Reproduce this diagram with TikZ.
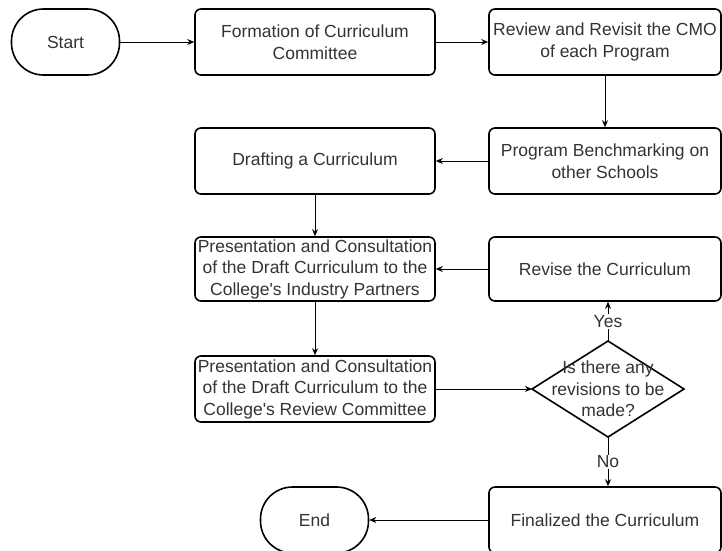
\documentclass[tikz,border=0pt]{standalone}
\usepackage{fontspec}
\setmainfont{Liberation Sans}
\usetikzlibrary{shapes.geometric,arrows.meta}
\begin{document}
\begin{tikzpicture}[x=1pt,y=-1pt,
  every node/.style={font=\fontsize{17.5}{21.5}\selectfont, text=black!80, align=center, inner sep=1pt},
  procbox/.style={draw=black, line width=1.6pt, rounded corners=6pt, minimum width=#1, minimum height=66pt},
  procbox/.default=240pt,
  term/.style={draw=black, line width=1.6pt, rounded corners=32pt, minimum width=108pt, minimum height=66pt},
  decline/.style={draw=black, line width=1.6pt, line join=miter},
  conn/.style={draw=black, line width=0.9pt, -{Stealth[length=7pt,width=6pt]}},
  lbl/.style={fill=white, inner sep=1pt}
]
\clip (0,0) rectangle (722,550);
\node[term] (start) at (65.5,42) {Start};
\node[procbox] (form) at (315,42) {Formation of Curriculum\\Committee};
\node[procbox=232pt] (review) at (605,42) {Review and Revisit the CMO\\of each Program};
\node[procbox=232pt] (bench) at (605,161) {Program Benchmarking on\\other Schools};
\node[procbox] (draft) at (315,161) {Drafting a Curriculum};
\node[procbox, minimum height=64pt] (pres1) at (315,269) {Presentation and Consultation\\of the Draft Curriculum to the\\College\textquotesingle s Industry Partners};
\node[procbox=232pt, minimum height=64pt] (revise) at (605,269) {Revise the Curriculum};
\node[procbox] (pres2) at (315,389) {Presentation and Consultation\\of the Draft Curriculum to the\\College\textquotesingle s Review Committee};
\coordinate (dtop) at (608,341);
\coordinate (dbot) at (608,437);
\coordinate (dleft) at (532,389);
\coordinate (dright) at (684,389);
\draw[decline] (dtop) -- (dright) -- (dbot) -- (dleft) -- cycle;
\node (dec) at (608,389) {Is there any\\revisions to be\\made?};
\node[procbox=232pt] (final) at (605,520) {Finalized the Curriculum};
\node[term] (end) at (314.5,520) {End};

\draw[conn] (start) -- (form);
\draw[conn] (form) -- (review);
\draw[conn] (review) -- (bench);
\draw[conn] (bench) -- (draft);
\draw[conn] (draft) -- (pres1);
\draw[conn] (revise) -- (pres1);
\draw[conn] (pres1) -- (pres2);
\draw[conn] (pres2) -- (dleft);
\draw[conn] (dtop) -- node[lbl] {Yes} (dtop |- revise.south);
\draw[conn] (dbot) -- node[lbl] {No} (dbot |- final.north);
\draw[conn] (final) -- (end);
\end{tikzpicture}
\end{document}
